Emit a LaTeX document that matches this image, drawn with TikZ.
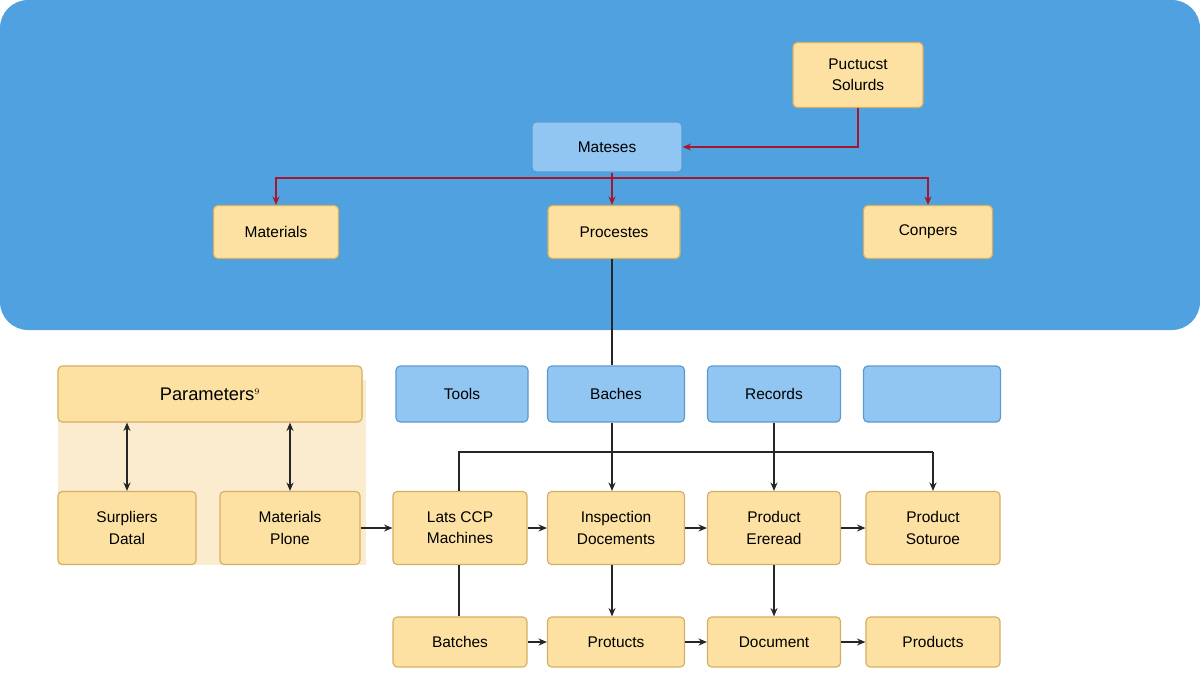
\documentclass[tikz,border=0pt]{standalone}
\usepackage{fontspec}
\setmainfont{Liberation Sans}
\usetikzlibrary{positioning,arrows.meta}
\definecolor{bgblue}{HTML}{4FA2DF}
\definecolor{lblue}{HTML}{92C6F2}
\definecolor{lbluedraw}{HTML}{5A9AD0}
\definecolor{obox}{HTML}{FCE1A2}
\definecolor{odraw}{HTML}{D6AE62}
\definecolor{panel}{HTML}{FBEBCF}
\definecolor{darkred}{HTML}{A3182E}
\tikzset{
  box/.style={draw=odraw, fill=obox, rounded corners=3pt, line width=0.8pt, align=center,
    font=\fontsize{11}{15}\selectfont, inner sep=0pt},
  bbox/.style={box, draw=lbluedraw, fill=lblue},
  link/.style={line width=0.9pt, black!85, >={Stealth[length=6pt,width=5pt]}},
  rlink/.style={line width=0.9pt, darkred, >={Stealth[length=6pt,width=5pt]}}
}
\begin{document}
\begin{tikzpicture}[x=0.025cm, y=-0.025cm]
  \useasboundingbox (0,0) rectangle (1200,688);
  \fill[bgblue] (0,0) [rounded corners=20pt] rectangle (1200,330); % top panel
  \fill[panel] (58,380) rectangle (366,565); % parameter panel

  % top part
  \node[box, minimum width=130*0.025cm, minimum height=65*0.025cm] (ps) at (858,75) {Puctucst\\Solurds};
  \node[bbox, minimum width=150*0.025cm, minimum height=50*0.025cm] (mat) at (607,147) {Mateses};
  \node[box, minimum width=125*0.025cm, minimum height=53*0.025cm] (m1) at (276,232) {Materials};
  \node[box, minimum width=132*0.025cm, minimum height=53*0.025cm] (pr) at (614,232) {Procestes};
  \node[box, minimum width=129*0.025cm, minimum height=53*0.025cm] (cp) at (928,232) {Conpers};

  \draw[rlink, ->] (ps.south) |- (mat.east);
  \coordinate (split) at (612,178);
  \draw[rlink] (mat.south -| split) -- (split);
  \draw[rlink, ->] (split) -| (m1.north);
  \draw[rlink, ->] (split) -- (pr.north -| split);
  \draw[rlink, ->] (split) -| (cp.north);

  % second row
  \node[box, minimum width=304*0.025cm, minimum height=56*0.025cm, font=\fontsize{13}{15}\selectfont] (par) at (210,394) {Parameters$^{\scriptscriptstyle 9}$};
  \node[bbox, minimum width=132*0.025cm, minimum height=56*0.025cm] (tl) at (462,394) {Tools};
  \node[bbox, minimum width=137*0.025cm, minimum height=56*0.025cm] (bc) at (616,394) {Baches};
  \node[bbox, minimum width=133*0.025cm, minimum height=56*0.025cm] (rc) at (774,394) {Records};
  \node[bbox, minimum width=137*0.025cm, minimum height=56*0.025cm] (em) at (932,394) {};

  % third row
  \node[box, minimum width=138*0.025cm, minimum height=73*0.025cm] (sd) at (127,528) {Surpliers\\Datal};
  \node[box, minimum width=140*0.025cm, minimum height=73*0.025cm] (mp) at (290,528) {Materials\\Plone};
  \node[box, minimum width=134*0.025cm, minimum height=73*0.025cm] (lc) at (460,528) {Lats CCP\\Machines};
  \node[box, minimum width=137*0.025cm, minimum height=73*0.025cm] (id) at (616,528) {Inspection\\Docements};
  \node[box, minimum width=133*0.025cm, minimum height=73*0.025cm] (pe) at (774,528) {Product\\Ereread};
  \node[box, minimum width=134*0.025cm, minimum height=73*0.025cm] (pso) at (933,528) {Product\\Soturoe};

  % fourth row
  \node[box, minimum width=134*0.025cm, minimum height=50*0.025cm] (bt) at (460,642) {Batches};
  \node[box, minimum width=137*0.025cm, minimum height=50*0.025cm] (pt) at (616,642) {Protucts};
  \node[box, minimum width=133*0.025cm, minimum height=50*0.025cm] (dc) at (774,642) {Document};
  \node[box, minimum width=134*0.025cm, minimum height=50*0.025cm] (pd) at (933,642) {Products};

  % links
  \draw[link] (pr.south -| split) -- (bc.north -| split);
  \draw[link, <->] (par.south -| sd) -- (sd.north);
  \draw[link, <->] (par.south -| mp) -- (mp.north);
  \coordinate (bus) at (459,452);
  \draw[link] (lc.north -| bus) |- (bus -| pso);
  \draw[link, ->] (bus -| pso) -- (pso.north -| pso);
  \draw[link, ->] (bc.south -| split) -- (id.north -| split);
  \draw[link, ->] (rc.south) -- (pe.north);
  \draw[link, ->] (mp.east) -- (lc.west);
  \draw[link, ->] (lc.east) -- (id.west);
  \draw[link, ->] (id.east) -- (pe.west);
  \draw[link, ->] (pe.east) -- (pso.west);
  \draw[link] (lc.south -| bus) -- (bt.north -| bus);
  \draw[link, ->] (id.south -| split) -- (pt.north -| split);
  \draw[link, ->] (pe.south) -- (dc.north);
  \draw[link, ->] (bt.east) -- (pt.west);
  \draw[link, ->] (pt.east) -- (dc.west);
  \draw[link, ->] (dc.east) -- (pd.west);
\end{tikzpicture}
\end{document}
